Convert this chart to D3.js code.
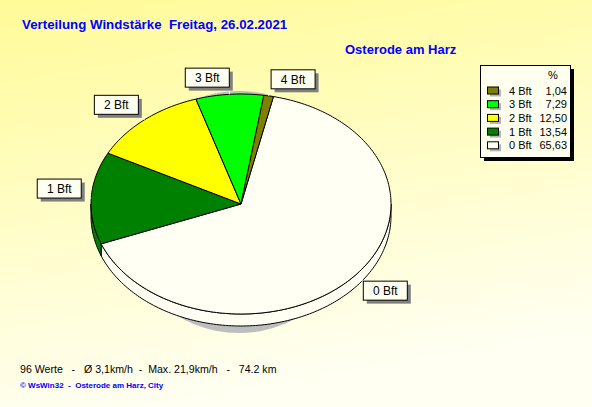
<!DOCTYPE html>
<html><head><meta charset="utf-8">
<script src="https://cdn.jsdelivr.net/npm/d3@7"></script>
<style>body{margin:0;}svg{display:block;}text{white-space:pre;}</style>
</head><body>
<script>
const categories = ["0 Bft","1 Bft","2 Bft","3 Bft","4 Bft"];
const percents = [65.63, 13.54, 12.50, 7.29, 1.04];
const percentLabels = ["65,63","13,54","12,50","7,29","1,04"];
const colors = ["#fffff4","#008000","#ffff00","#00ff00","#808000"];
const titleText = "Verteilung Windstärke  Freitag, 26.02.2021";
const stationText = "Osterode am Harz";
const footerText = "96 Werte   -   Ø 3,1km/h  -  Max. 21,9km/h   -   74.2 km";
const creditText = "© WsWin32  -  Osterode am Harz, City";

const W = 592, H = 407;
const svg = d3.select("body").append("svg").attr("width", W).attr("height", H)
  .style("font-family", "Arial, 'Liberation Sans', sans-serif");

const defs = svg.append("defs");
const grad = defs.append("linearGradient").attr("id","bg").attr("x1","0").attr("y1","0").attr("x2","0.25").attr("y2","1");
grad.append("stop").attr("offset","0").attr("stop-color","#fffb98");
grad.append("stop").attr("offset","1").attr("stop-color","#fffff2");
svg.append("rect").attr("width",W).attr("height",H).attr("fill","url(#bg)");

// Titles
svg.append("text").attr("x",22).attr("y",29).attr("fill","#0000ff").attr("font-weight","bold")
  .attr("font-size","13.3px").text(titleText);
svg.append("text").attr("x",345).attr("y",54).attr("fill","#0000ff").attr("font-weight","bold")
  .attr("font-size","13px").text(stationText);

// Pie geometry
const cx = 241, cy = 204, rx = 150, ry = 110, depth = 12;
const startA = 12.5 * Math.PI / 180;
const pie = d3.pie().sort(null).startAngle(startA).endAngle(startA + 2*Math.PI);
const arcs = pie(percents);
const pt = (a, k=1, dy=0) => [cx + rx*k*Math.sin(a), cy + dy - ry*k*Math.cos(a)];
const line = d3.line();
function arcPts(a0, a1, k=1, dy=0) {
  const n = Math.max(2, Math.ceil(Math.abs(a1-a0) / 0.02));
  return d3.range(n+1).map(i => pt(a0 + (a1-a0)*i/n, k, dy));
}

// Shadow
svg.append("ellipse").attr("cx",239).attr("cy",212).attr("rx",120).attr("ry",121).attr("fill","#bdbdbd");

// Side (visible between PI/2 and 3PI/2)
const gSide = svg.append("g");
arcs.forEach((d, i) => {
  [0, 2*Math.PI].forEach(off => {
    const a0 = Math.max(d.startAngle - off, Math.PI/2);
    const a1 = Math.min(d.endAngle - off, 3*Math.PI/2);
    if (a1 > a0) {
      const pts = arcPts(a0, a1).concat(arcPts(a1, a0, 1, depth));
      gSide.append("path").attr("d", line(pts) + "Z").attr("fill", colors[i])
        .attr("stroke","#000").attr("stroke-width",1).attr("stroke-linejoin","round");
    }
  });
});

// Top face
const gTop = svg.append("g");
arcs.forEach((d, i) => {
  const pts = [[cx, cy]].concat(arcPts(d.startAngle, d.endAngle));
  gTop.append("path").attr("d", line(pts) + "Z").attr("fill", colors[i])
    .attr("stroke","#000").attr("stroke-width",1).attr("stroke-linejoin","round");
});

// Labels
const gLab = svg.append("g");
const bw = 44, bh = 19;
arcs.forEach((d, i) => {
  const mid = (d.startAngle + d.endAngle) / 2;
  const s = Math.sin(mid), c = Math.cos(mid);
  const edge = pt(mid, 1, c < 0 ? depth*0.3 : 0);
  const anc = pt(mid, 1.07);
  gLab.append("line").attr("x1",edge[0]).attr("y1",edge[1]).attr("x2",anc[0]).attr("y2",anc[1])
    .attr("stroke","#ffffff").attr("stroke-width",1);
  const bx = s >= 0 ? anc[0] : anc[0] - bw;
  const by = c >= 0 ? anc[1] - bh : anc[1];
  gLab.append("rect").attr("x",bx+4).attr("y",by+4).attr("width",bw).attr("height",bh).attr("fill","#808080");
  gLab.append("rect").attr("x",bx+0.5).attr("y",by+0.5).attr("width",bw).attr("height",bh)
    .attr("fill","#fffff0").attr("stroke","#000").attr("stroke-width",1);
  gLab.append("text").attr("x",bx+bw/2+0.5).attr("y",by+bh/2+5).attr("text-anchor","middle")
    .attr("font-size","12px").attr("fill","#000").text(categories[i]);
});

// Legend
const lg = svg.append("g");
const lx = 480, ly = 65, lw = 90, lh = 92;
lg.append("rect").attr("x",lx+4).attr("y",ly+4).attr("width",lw).attr("height",lh).attr("fill","#000");
lg.append("rect").attr("x",lx+0.5).attr("y",ly+0.5).attr("width",lw).attr("height",lh)
  .attr("fill","#fffff0").attr("stroke","#000");
lg.append("text").attr("x",553).attr("y",79).attr("text-anchor","middle").attr("font-size","11px").text("%");
const order = [4,3,2,1,0];
order.forEach((idx, r) => {
  const yb = 94.5 + r*13.7;
  lg.append("rect").attr("x",490).attr("y",yb-5).attr("width",11).attr("height",7).attr("fill","#b4b4b4");
  lg.append("rect").attr("x",487.5).attr("y",yb-7.5).attr("width",11).attr("height",7)
    .attr("fill",colors[idx]).attr("stroke","#000");
  lg.append("text").attr("x",509).attr("y",yb).attr("font-size","11px").text(categories[idx]);
  lg.append("text").attr("x",567).attr("y",yb).attr("text-anchor","end").attr("font-size","11px").text(percentLabels[idx]);
});

// Footer
svg.append("text").attr("x",20).attr("y",373).attr("font-size","10.6px").attr("fill","#000").text(footerText);
svg.append("text").attr("x",20).attr("y",388).attr("font-size","8px").attr("font-weight","bold").attr("fill","#0000ff").text(creditText);
</script>
</body></html>
